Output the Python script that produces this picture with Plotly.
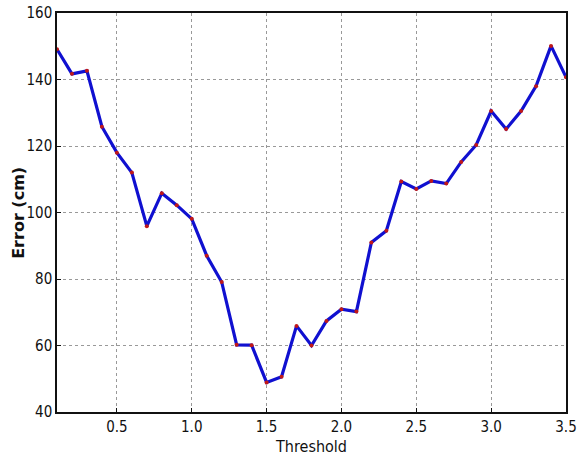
import plotly.graph_objects as go

# Threshold sweep and resulting localisation error
threshold = [0.1, 0.2, 0.3, 0.4, 0.5, 0.6, 0.7, 0.8, 0.9, 1.0,
             1.1, 1.2, 1.3, 1.4, 1.5, 1.6, 1.7, 1.8, 1.9, 2.0,
             2.1, 2.2, 2.3, 2.4, 2.5, 2.6, 2.7, 2.8, 2.9, 3.0,
             3.1, 3.2, 3.3, 3.4, 3.5]
error_cm = [149.1, 141.7, 142.6, 125.8, 118.0, 112.0, 95.9, 105.8, 102.2, 98.1,
            87.0, 79.1, 60.2, 60.1, 48.9, 50.6, 65.9, 60.0, 67.4, 70.9,
            70.2, 91.0, 94.5, 109.3, 107.1, 109.5, 108.7, 115.2, 120.3, 130.5,
            125.1, 130.5, 138.0, 150.1, 140.7]

x_ticks = [0.5, 1.0, 1.5, 2.0, 2.5, 3.0, 3.5]
y_ticks = [40, 60, 80, 100, 120, 140, 160]

fig = go.Figure()
fig.add_trace(go.Scatter(
    x=threshold, y=error_cm, mode="lines",
    line=dict(color="#1010d0", width=3.2),
    hoverinfo="skip", showlegend=False,
))
fig.add_trace(go.Scatter(
    x=threshold, y=error_cm, mode="markers",
    marker=dict(color="#c01818", size=4),
    showlegend=False,
))

tick_font = dict(family="DejaVu Sans Condensed", size=15, color="#111")
axis_common = dict(
    showline=True, mirror=True, linecolor="#111", linewidth=1.5,
    showgrid=True, gridcolor="#999999", gridwidth=1, griddash="dot",
    ticks="inside", ticklen=4, tickcolor="#111",
    zeroline=False, tickfont=tick_font, automargin=False,
)

fig.update_xaxes(
    range=[0.1, 3.5], tickvals=x_ticks,
    ticktext=[f"{v:.1f}" for v in x_ticks],
    title=dict(text="Threshold",
               font=dict(family="DejaVu Sans Condensed", size=16, color="#111"),
               standoff=6),
    **axis_common,
)
fig.update_yaxes(range=[40, 160], tickvals=y_ticks, **axis_common)

# Rotated y-axis label placed next to the tick labels
fig.add_annotation(
    text="<b>Error (cm)</b>", textangle=-90,
    xref="paper", yref="paper", x=-0.076, y=0.5,
    xanchor="center", yanchor="middle", showarrow=False,
    font=dict(family="DejaVu Sans", size=16, color="#111"),
)

fig.update_layout(
    width=588, height=457,
    margin=dict(l=57, r=22, t=13, b=45),
    paper_bgcolor="white", plot_bgcolor="white",
)

fig.write_html("out.html")
